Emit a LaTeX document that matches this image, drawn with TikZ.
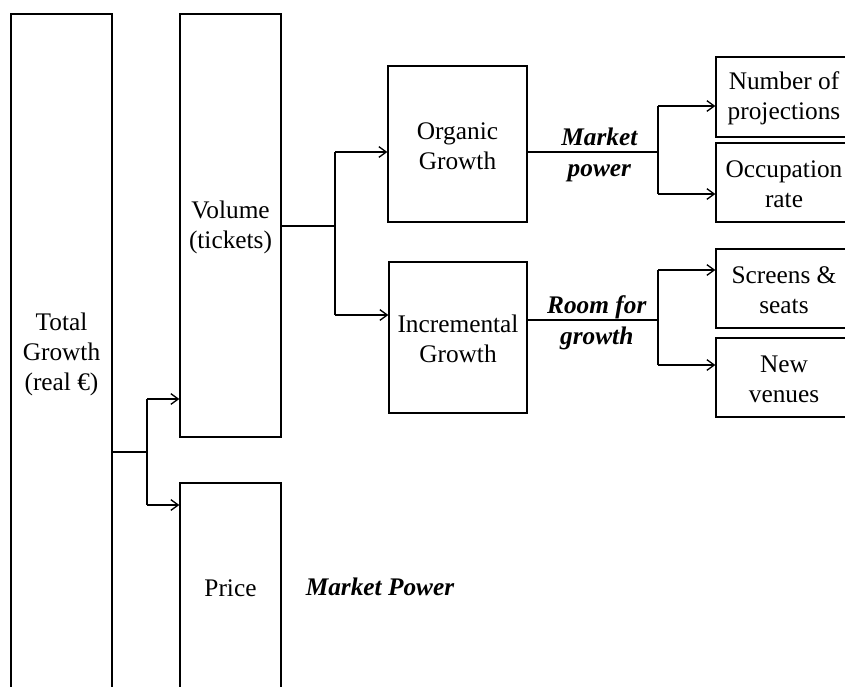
\documentclass[tikz,border=0pt]{standalone}
\usepackage{fontspec}
\setmainfont{Liberation Serif}
\usetikzlibrary{arrows.meta}
\begin{document}
\begin{tikzpicture}[x=0.75pt,y=-0.75pt,
  box/.style={draw,line width=1pt,align=center,inner sep=0pt,
    font=\fontsize{19}{22.5}\selectfont},
  conn/.style={line width=1pt},
  arr/.style={line width=1pt,-{Straight Barb[length=5.5pt,width=8pt]}},
  lbl/.style={align=center,font=\fontsize{19}{23}\selectfont\bfseries\itshape}]
\useasboundingbox (0,0) rectangle (845,686);
\clip (0,0) rectangle (845,686);
% boxes
\node[box,minimum width=101*0.75pt,minimum height=678*0.75pt] (Total) at (61.5,353) {\strut Total\\Growth\\(real €)};
\node[box,minimum width=101*0.75pt,minimum height=423*0.75pt] (Volume) at (230.5,225.5) {\strut Volume\\(tickets)};
\node[box,minimum width=101*0.75pt,minimum height=210*0.75pt] (Price) at (230.5,588) {Price};
\node[box,minimum width=139*0.75pt,minimum height=156*0.75pt] (Organic) at (457.5,144) {\strut Organic\\Growth};
\node[box,minimum width=138*0.75pt,minimum height=151*0.75pt] (Incr) at (458,337.5) {\strut Incremental\\Growth};
\node[box,minimum width=136*0.75pt,minimum height=80*0.75pt] (Num) at (784,97) {\strut Number of\\projections};
\node[box,minimum width=136*0.75pt,minimum height=79*0.75pt] (Occ) at (784,182.5) {\strut Occupation\\rate};
\node[box,minimum width=136*0.75pt,minimum height=79*0.75pt] (Scr) at (784,288.5) {\strut Screens \&\\seats};
\node[box,minimum width=136*0.75pt,minimum height=79*0.75pt] (New) at (784,377.5) {\strut New\\venues};
\node[lbl] (MP) at (380,587) {Market Power};
% connectors: total
\coordinate (j1) at (147,452);
\coordinate (v1) at (147,399);
\coordinate (p1) at (147,505);
\draw[conn] (Total.east|-j1) -- (j1);
\draw[conn] (v1) -- (p1);
\draw[arr] (v1) -- (Volume.west|-v1);
\draw[arr] (p1) -- (Price.west|-p1);
% connectors: volume
\coordinate (j2) at (335,226);
\coordinate (o1) at (335,152);
\coordinate (i1) at (335,315);
\draw[conn] (Volume.east|-j2) -- (j2);
\draw[conn] (o1) -- (i1);
\draw[arr] (o1) -- (Organic.west|-o1);
\draw[arr] (i1) -- (Incr.west|-i1);
% connectors: organic
\coordinate (j3) at (658,152);
\coordinate (n1) at (658,106);
\coordinate (c1) at (658,194);
\draw[conn] (Organic.east|-j3) -- node[lbl,pos=0.55,yshift=-2pt] (MPl) {Market\\power} (j3);
\draw[conn] (n1) -- (c1);
\draw[arr] (n1) -- (Num.west|-n1);
\draw[arr] (c1) -- (Occ.west|-c1);
% connectors: incremental
\coordinate (j4) at (658,320);
\coordinate (s1) at (658,270);
\coordinate (w1) at (658,365);
\draw[line width=2pt] (Incr.east|-j4) -- node[lbl,pos=0.53,yshift=-2pt] (RG) {Room for\\growth} (j4);
\draw[conn] (s1) -- (w1);
\draw[arr] (s1) -- (Scr.west|-s1);
\draw[arr] (w1) -- (New.west|-w1);
\end{tikzpicture}
\end{document}
